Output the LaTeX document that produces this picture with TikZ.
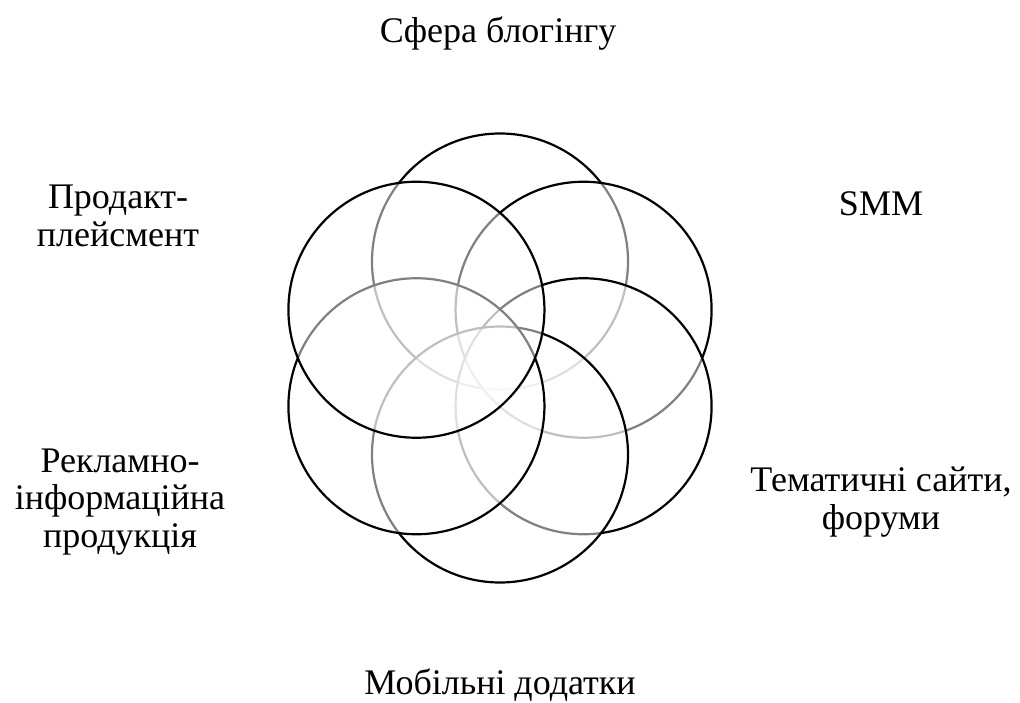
\documentclass[tikz,border=0pt]{standalone}
\usepackage{fontspec}
\setmainfont{Liberation Serif}
\usetikzlibrary{calc}
\def\R{128}
\def\D{96.5}
\definecolor{fgcolor}{gray}{0}
\definecolor{bgcolor}{gray}{1}

\begin{document}
\begin{tikzpicture}[x=1pt,y=1pt,
    ring/.style={draw=fgcolor,line width=2.2pt,fill=bgcolor,fill opacity=0.5},
    label/.style={align=center,anchor=base,font=\fontsize{36}{38}\selectfont,text=fgcolor}]
\useasboundingbox[fill=bgcolor] (0,0) rectangle (1020,702);
\coordinate (mid) at (500,344);
% circles go clockwise from the top, each one washes out the ones below it
\foreach \a/\n in {90/top,30/upright,-30/lowright,-90/bottom,210/lowleft,150/upleft}{
    \coordinate (\n) at ($(mid)+(\a:\D)$);
    \draw[ring] (\n) circle (\R);
}
% base anchor of a multi-line label sits on its last line
\node[label] (blog) at (498,659) {Сфера блогінгу};
\node[label] (smm) at (881,486) {SMM};
\node[label] (place) at (118,455) {Продакт-\\плейсмент};
\node[label] (promo) at (120,154) {Рекламно-\\інформаційна\\продукція};
\node[label] (sites) at (881,172) {Тематичні сайти,\\форуми};
\node[label] (apps) at (500,8) {Мобільні додатки};
\end{tikzpicture}
\end{document}
